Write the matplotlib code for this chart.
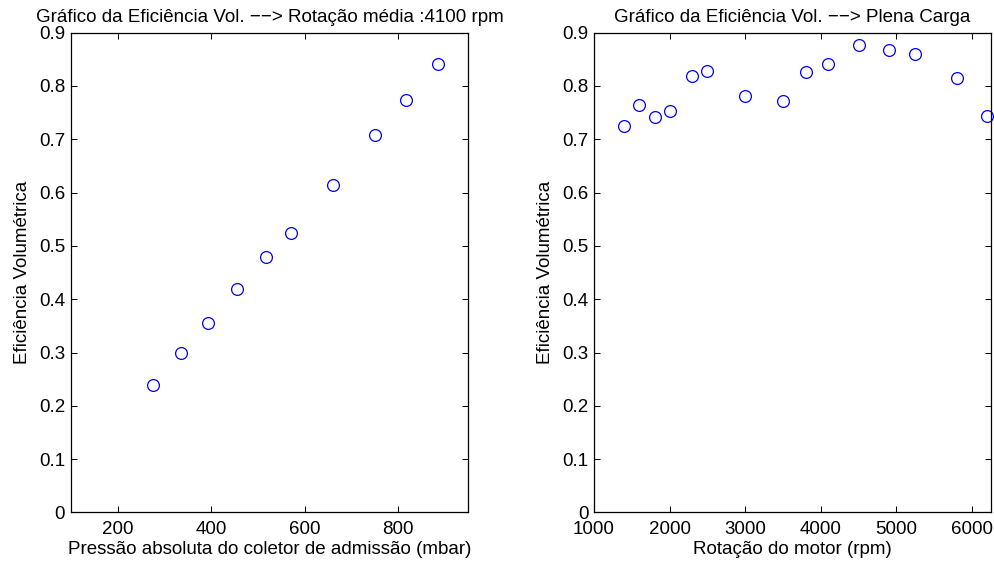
import matplotlib
matplotlib.use("Agg")
import matplotlib.pyplot as plt
from matplotlib.ticker import FuncFormatter

# Left plot: volumetric efficiency vs manifold absolute pressure (mean 4100 rpm)
pressao = [275, 335, 393, 455, 518, 570, 660, 750, 816, 885]
efic_pressao = [0.240, 0.300, 0.355, 0.419, 0.479, 0.524, 0.615, 0.708, 0.773, 0.841]

# Right plot: volumetric efficiency vs engine speed (full load)
rotacao = [1400, 1600, 1800, 2000, 2300, 2500, 3000, 3500, 3800, 4100,
           4500, 4900, 5250, 5800, 6200]
efic_rotacao = [0.724, 0.765, 0.741, 0.753, 0.818, 0.828, 0.781, 0.771, 0.826,
                0.841, 0.876, 0.868, 0.860, 0.815, 0.744]

titulos = ["Gráfico da Eficiência Vol. −−> Rotação média :4100 rpm",
           "Gráfico da Eficiência Vol. −−> Plena Carga"]
xlabels = ["Pressão absoluta do coletor de admissão (mbar)", "Rotação do motor (rpm)"]
ylabel = "Eficiência Volumétrica"
xticks_esq = [200, 400, 600, 800]
xticks_dir = [1000, 2000, 3000, 4000, 5000, 6000]
yticks = [0, 0.1, 0.2, 0.3, 0.4, 0.5, 0.6, 0.7, 0.8, 0.9]

plt.rcParams["font.family"] = ["Liberation Sans", "DejaVu Sans"]
fs = 13.5

fig = plt.figure(figsize=(9.95, 5.62), dpi=100)
ax1 = fig.add_axes([0.0711, 0.0881, 0.3996, 0.854])
ax2 = fig.add_axes([0.597, 0.0881, 0.399, 0.854])

configs = [
    (ax1, pressao, efic_pressao, (100, 950), xticks_esq, titulos[0], xlabels[0]),
    (ax2, rotacao, efic_rotacao, (1000, 6250), xticks_dir, titulos[1], xlabels[1]),
]

for ax, x, y, xlim, xt, titulo, xl in configs:
    ax.plot(x, y, linestyle="none", marker="o", markersize=8.5,
            markerfacecolor="none", markeredgecolor="blue", markeredgewidth=0.9,
            clip_on=False)
    ax.set_xlim(*xlim)
    ax.set_ylim(0, 0.9)
    ax.set_xticks(xt)
    ax.set_yticks(yticks)
    ax.yaxis.set_major_formatter(FuncFormatter(lambda v, _: f"{v:g}"))
    ax.tick_params(direction="in", length=4, width=0.75, top=True, right=True,
                   labelsize=fs)
    ax.tick_params(axis="y", pad=4)
    ax.tick_params(axis="x", pad=6)
    for s in ax.spines.values():
        s.set_linewidth(0.9)
    ax.set_title(titulo, fontsize=fs, pad=7.5)
    ax.set_xlabel(xl, fontsize=fs, labelpad=2)
    ax.set_ylabel(ylabel, fontsize=fs, labelpad=6)

fig.savefig("out.png", dpi=100)
